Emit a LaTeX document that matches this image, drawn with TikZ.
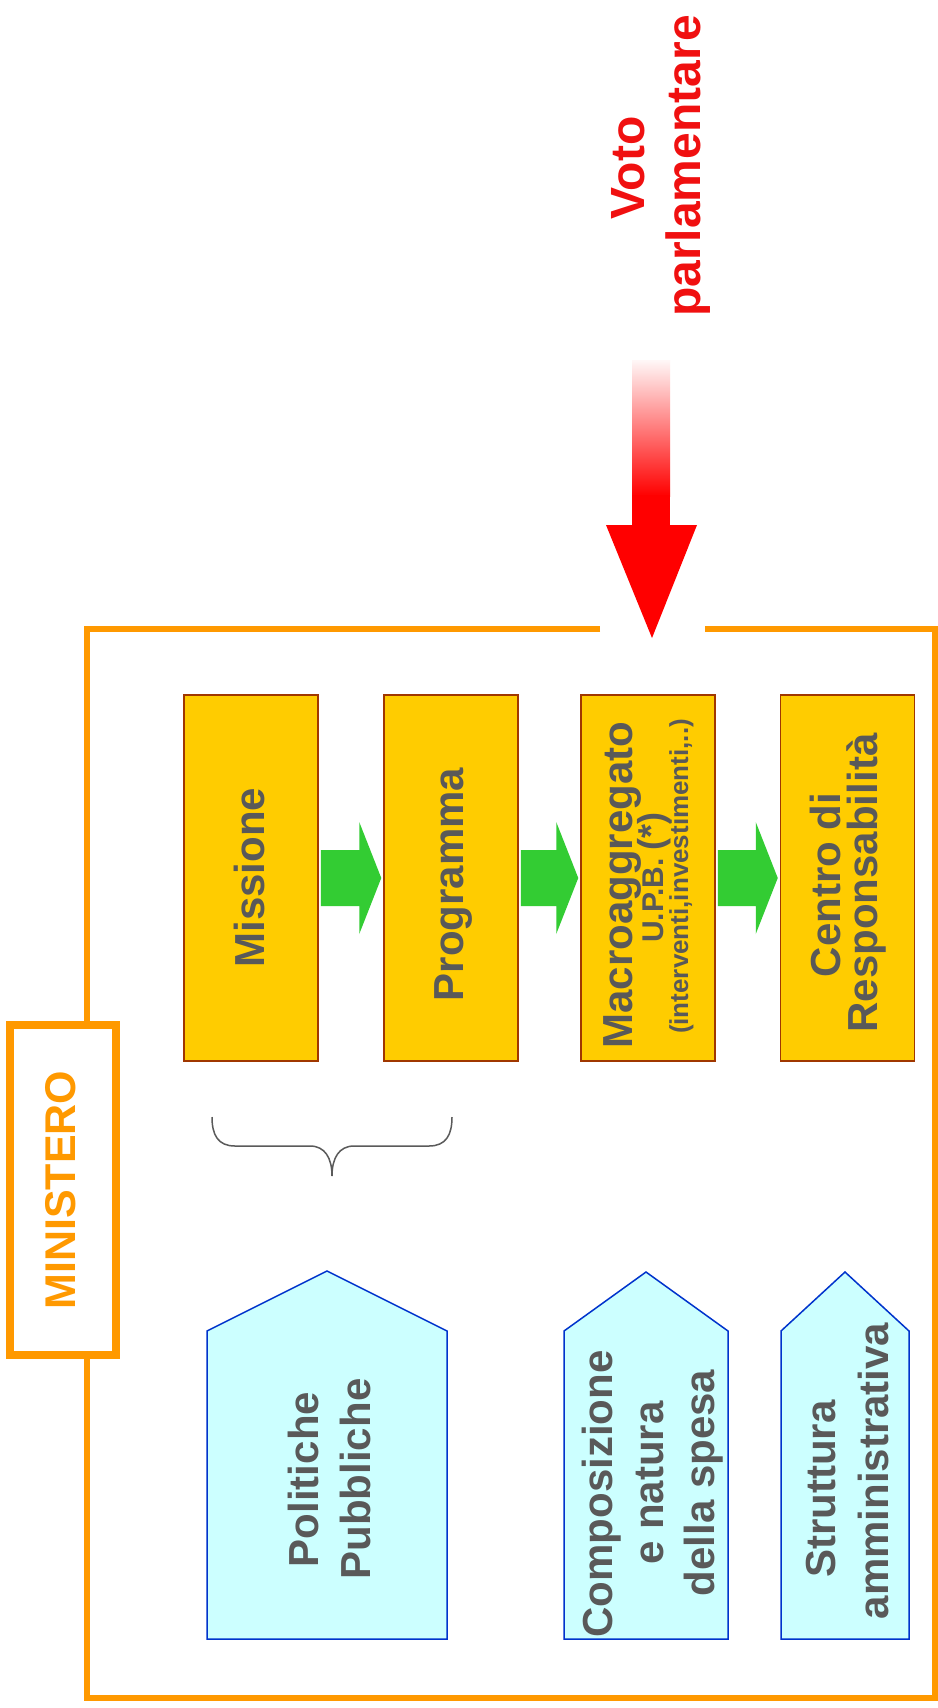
\documentclass[tikz,border=0pt]{standalone}
\usepackage{fontspec}
\setmainfont{Liberation Sans}
\usetikzlibrary{calc}
\definecolor{tgrey}{RGB}{89,89,89}
\definecolor{orng}{RGB}{255,153,0}
\definecolor{ygold}{RGB}{255,204,0}
\definecolor{bbrown}{RGB}{160,55,0}
\definecolor{ggreen}{RGB}{51,204,51}
\definecolor{pcyan}{RGB}{204,255,255}
\definecolor{pblue}{RGB}{0,51,204}
\definecolor{vred}{RGB}{240,16,16}
\definecolor{brgrey}{RGB}{90,90,90}
\newcommand\greenarrow[2]{%
  \fill[garrow] ($(#1.east)+(2,-28)$) -- ($(#2.west)+(-24,-28)$) -- ($(#2.west)+(-24,-56)$)
    -- ($(#2.west)+(-2,0)$) -- ($(#2.west)+(-24,56)$) -- ($(#2.west)+(-24,28)$)
    -- ($(#1.east)+(2,28)$) -- cycle;}
\begin{document}
\begin{tikzpicture}[x=1pt,y=-1pt,
  ybox/.style={draw=bbrown, line width=1.5pt, fill=ygold, minimum width=134pt, minimum height=366pt, inner sep=0pt},
  txt/.style={rotate=90, anchor=base, inner sep=0pt, text=tgrey, font=\fontsize{42}{50}\selectfont\bfseries},
  pent/.style={draw=pblue, line width=1.5pt, fill=pcyan, line join=miter},
  frame/.style={draw=orng, line width=5.5pt},
  garrow/.style={fill=ggreen},
  redtxt/.style={rotate=90, anchor=base, inner sep=0pt, text=vred, font=\fontsize{48}{56}\selectfont\bfseries},
  bracestyle/.style={draw=brgrey, line width=1.5pt}]
\useasboundingbox (0,0) rectangle (937,1708);
\fill[white] (0,0) rectangle (937,1708);

% outer frame with gap for the red arrow
\coordinate (gapL) at (600,629);
\coordinate (gapR) at (705,629);
\draw[frame] (gapL) -- (87,629) -- (87,1698) -- (935,1698) -- (935,629) -- (gapR);

% MINISTERO label box
\node[draw=orng, line width=8pt, fill=white, minimum width=106pt, minimum height=330pt, inner sep=0pt] (minbox) at (63,1190) {};
\node[txt, text=orng, font=\fontsize{43}{50}\selectfont\bfseries] (mint) at (75,1190) {MINISTERO};

% yellow boxes
\node[ybox] (mis) at (251,878) {};
\node[ybox] (prog) at (451,878) {};
\node[ybox] (macro) at (648,878) {};
\node[ybox] (centro) at (847.5,878) {};

\node[txt] (mist) at (264,877.5) {Missione};
\node[txt] (progt) at (463,884.5) {Programma};
\node[txt] (macroa) at (632,885) {Macroaggregato};
\node[txt, font=\fontsize{30}{34}\selectfont\bfseries] (macrob) at (663,877.5) {U.P.B. {\fontsize{36}{36}\selectfont(*)}};
\node[txt, font=\fontsize{26}{30}\selectfont\bfseries] (macroc) at (688,876.5) {(interventi,investimenti,..)};
\node[txt] (centroa) at (840,885) {Centro di};
\node[txt] (centrob) at (877,883) {Responsabilità};

% green block arrows
\greenarrow{mis}{prog}
\greenarrow{prog}{macro}
\greenarrow{macro}{centro}

% brace under Missione + Programma
\draw[bracestyle] (212,1117) .. controls (212,1135) and (218,1146) .. (235,1146) -- (310,1146)
  .. controls (325,1146) and (332,1158) .. (332,1176)
  .. controls (332,1158) and (339,1146) .. (354,1146) -- (429,1146)
  .. controls (446,1146) and (452,1135) .. (452,1117);

% pentagons
\draw[pent] (207,1331) -- (327,1271) -- (447,1331) -- (447,1639) -- (207,1639) -- cycle;
\draw[pent] (564,1331) -- (646,1272) -- (728,1331) -- (728,1639) -- (564,1639) -- cycle;
\draw[pent] (781,1331) -- (845,1272) -- (909,1331) -- (909,1639) -- (781,1639) -- cycle;

\node[txt] (pola) at (318,1479.5) {Politiche};
\node[txt] (polb) at (370,1479) {Pubbliche};
\node[txt] (compa) at (612,1494) {Composizione};
\node[txt] (compb) at (663,1483) {e natura};
\node[txt] (compc) at (714,1483) {della spesa};
\node[txt] (strua) at (835,1489) {Struttura};
\node[txt] (strub) at (888,1471) {amministrativa};

% Voto parlamentare
\node[redtxt] (voto) at (644,168) {Voto};
\node[redtxt] (parl) at (700,166) {parlamentare};

% red arrow
\shade[top color=red!3, bottom color=red] (632,360) rectangle (670,496);
\fill[red] (632,495) rectangle (670,527);
\coordinate (rtip) at (652,638);
\fill[red] (606,525) -- (697,525) -- (rtip) -- cycle;
\end{tikzpicture}
\end{document}
